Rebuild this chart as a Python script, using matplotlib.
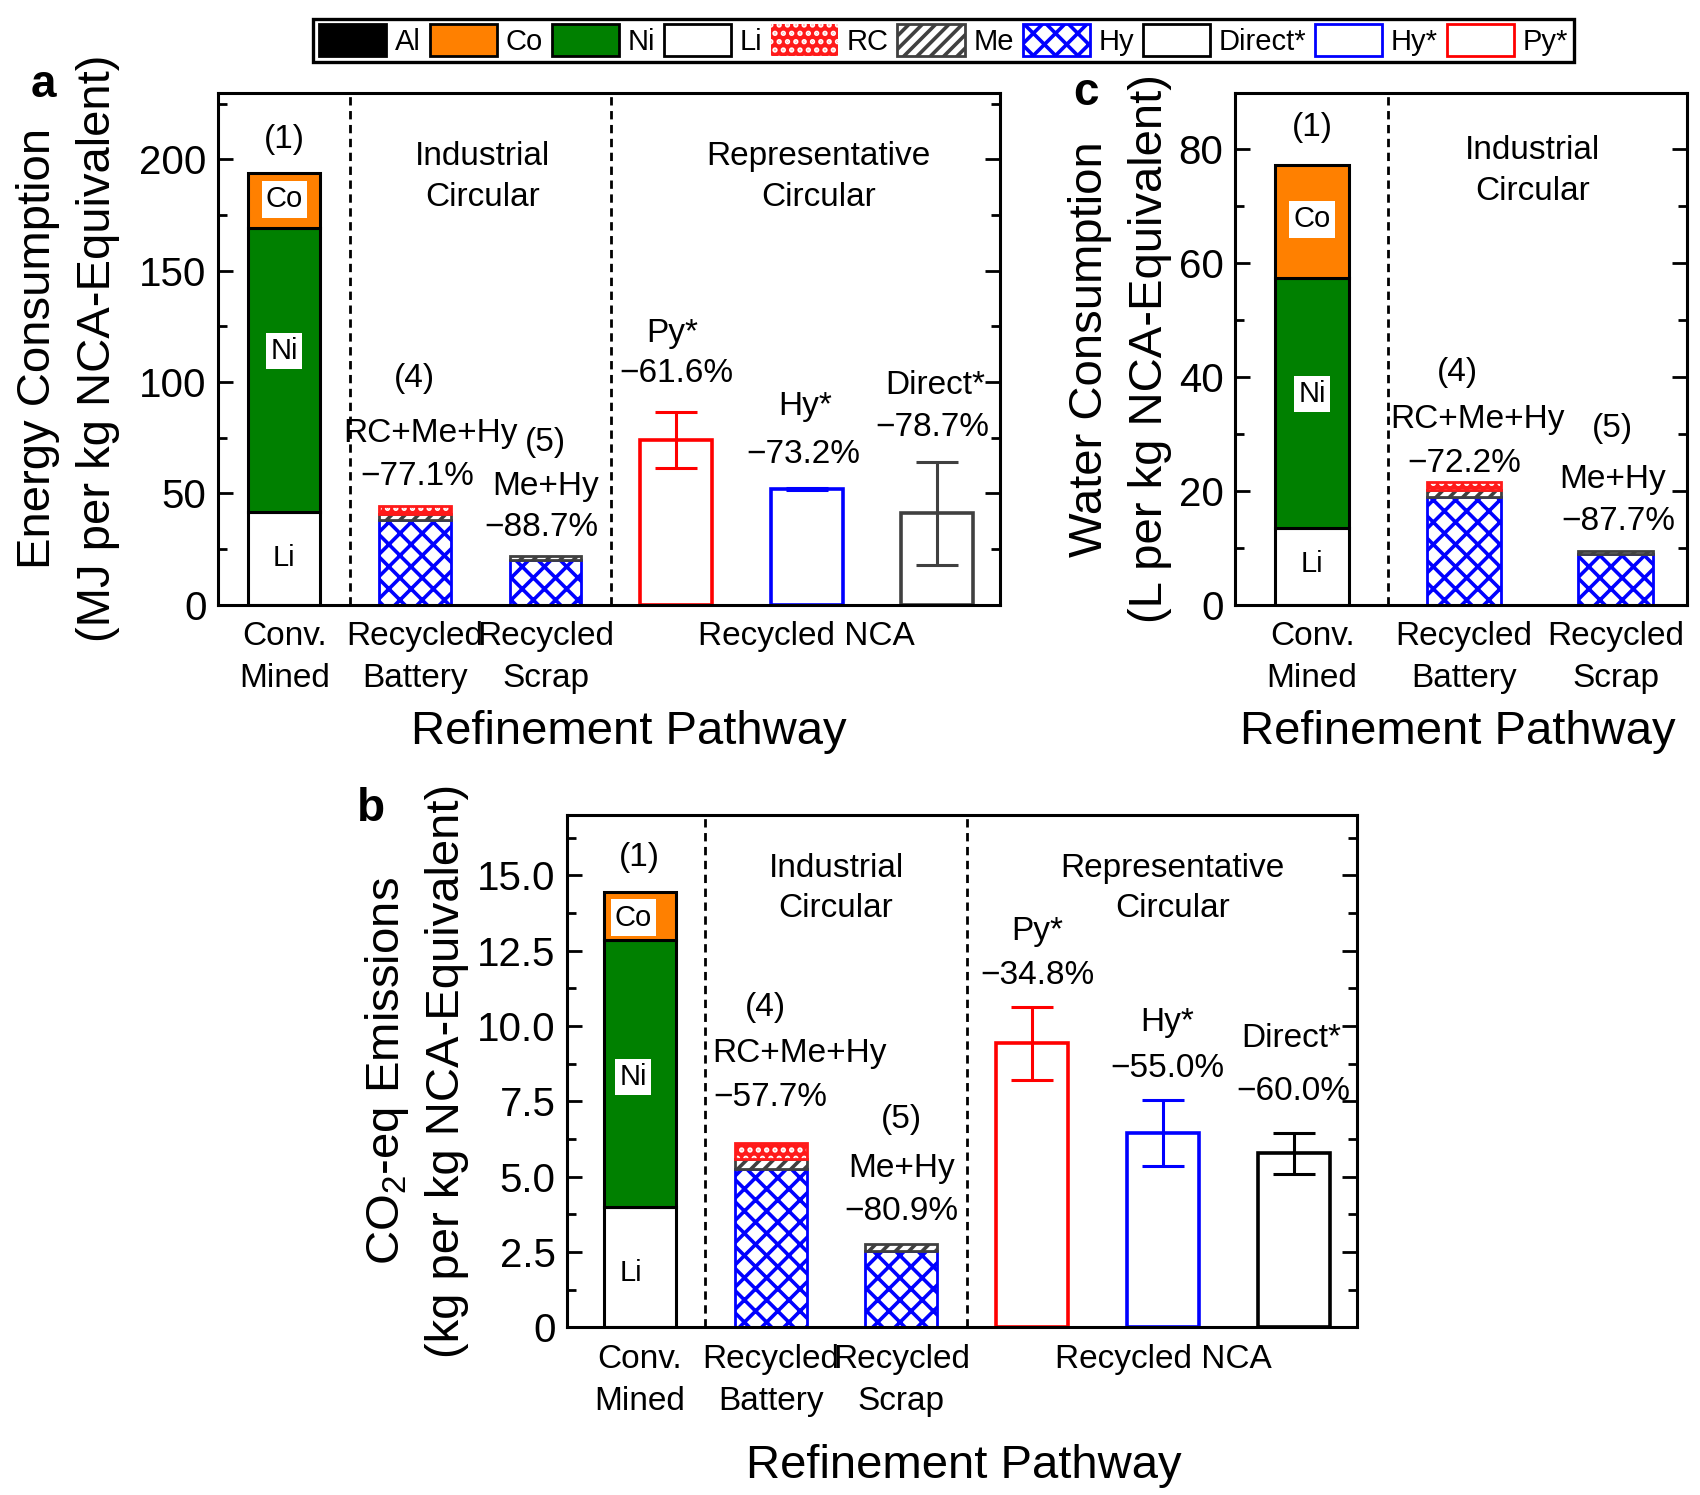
import matplotlib.pyplot as plt
from matplotlib.patches import Patch
from matplotlib.ticker import MultipleLocator, FuncFormatter

plt.rcParams['font.family'] = ['Liberation Sans', 'DejaVu Sans']
plt.rcParams['mathtext.fontset'] = 'custom'
plt.rcParams['mathtext.rm'] = 'Liberation Sans'
plt.rcParams['hatch.linewidth'] = 1.3

coColor = '#ff8000'
niColor = '#008000'
rcColor = '#ff1a1a'
meColor = '#404040'
hyColor = '#0000ff'
pyColor = '#ff0000'

catLabels = ['Conv.\nMined', 'Recycled\nBattery', 'Recycled\nScrap', 'Recycled NCA']
catPos = [0, 1, 2, 4]

# panel a: energy, MJ per kg NCA-equivalent
energyMined = [41.5, 127.5, 25.0]          # Li, Ni, Co
energyHy = [37.9, 20.2]                     # recycled battery, recycled scrap
energyMe = [2.8, 1.8]
energyRC = [3.6, 0.0]
energyStar = [74.0, 51.8, 41.0]             # Py*, Hy*, Direct*
energyStarErr = [12.7, 0.5, 23.3]

# panel b: CO2-eq, kg per kg NCA-equivalent
co2Mined = [4.0, 8.87, 1.59]
co2Hy = [5.25, 2.54]
co2Me = [0.35, 0.22]
co2RC = [0.52, 0.0]
co2Star = [9.42, 6.45, 5.78]
co2StarErr = [1.22, 1.1, 0.68]

# panel c: water, L per kg NCA-equivalent
waterMined = [13.4, 44.0, 19.9]
waterHy = [19.0, 8.9]
waterMe = [1.2, 0.6]
waterRC = [1.3, 0.0]


def minedBar(ax, vals, w):
    li, ni, co = vals
    ax.bar(0, li, w, color='white', edgecolor='black', lw=1.1)
    ax.bar(0, ni, w, bottom=li, color=niColor, edgecolor='black', lw=1.1)
    ax.bar(0, co, w, bottom=li + ni, color=coColor, edgecolor='black', lw=1.1)


def recycledBars(ax, hy, me, rc, w):
    xs = [1, 2]
    ax.bar(xs, hy, w, color='white', edgecolor=hyColor, hatch='xxx', lw=1.0)
    ax.bar(xs, me, w, bottom=hy, color='white', edgecolor=meColor, hatch='/////', lw=1.0)
    for i in range(2):
        if rc[i] > 0:
            b = hy[i] + me[i]
            ax.bar(xs[i], rc[i], w, bottom=b, color=rcColor, edgecolor='white', hatch='....', lw=0)
            ax.bar(xs[i], rc[i], w, bottom=b, fill=False, edgecolor=rcColor, lw=1.0)


def starBars(ax, vals, errs, w, colors):
    xs = [3, 4, 5]
    for x, v, e, c in zip(xs, vals, errs, colors):
        ax.bar(x, v, w, color='white', edgecolor=c, lw=1.3)
        ax.errorbar(x, v, yerr=e, color=c, lw=1.1, capsize=7.5, capthick=1.1)


def styleAxis(ax, ymax, major, minor):
    ax.set_ylim(0, ymax)
    ax.yaxis.set_major_locator(MultipleLocator(major))
    ax.yaxis.set_minor_locator(MultipleLocator(minor))
    ax.tick_params(axis='y', which='both', direction='in', left=True, right=True,
                   labelsize=14.5, width=1.0, pad=4)
    ax.tick_params(axis='y', which='major', length=5.5)
    ax.tick_params(axis='y', which='minor', length=3.2)
    ax.tick_params(axis='x', length=0, labelsize=12, pad=6)
    for s in ax.spines.values():
        s.set_linewidth(1.1)


def setTicks(ax, pos, labels):
    ax.set_xticks(pos, labels)
    for t in ax.get_xticklabels():
        t.set_linespacing(1.45)


def yLabels(ax, line1, line2, x1, x2):
    ax.set_ylabel(line1, fontsize=17)
    ax.yaxis.set_label_coords(x1, 0.5)
    ax.yaxis.label.set_va('center')
    ax.text(x2, 0.5, line2, fontsize=17, rotation=90, ha='center', va='center',
            transform=ax.transAxes)


def label(ax, x, y, s, **kw):
    ax.text(x, y, s, ha='center', va='center', fontsize=12, linespacing=1.4, **kw)


def boxLabel(ax, x, y, s):
    ax.text(x, y, s, ha='center', va='center', fontsize=10.5,
            bbox=dict(facecolor='white', edgecolor='none', pad=1.5))


fig = plt.figure(figsize=(8.5, 7.475), dpi=200)
axA = fig.add_axes([0.128, 0.5955, 0.4603, 0.3426])
axC = fig.add_axes([0.7263, 0.5955, 0.266, 0.3426])
axB = fig.add_axes([0.3333, 0.1122, 0.4647, 0.3426])

# ---- panel a ----
ax = axA
minedBar(ax, energyMined, 0.55)
recycledBars(ax, energyHy, energyMe, energyRC, 0.55)
starBars(ax, energyStar, energyStarErr, 0.55, [pyColor, hyColor, '#404040'])
styleAxis(ax, 230, 50, 25)
ax.set_xlim(-0.51, 5.48)
setTicks(ax, catPos, catLabels)
for xv in [0.5, 2.5]:
    ax.axvline(xv, color='black', ls=(0, (3, 2)), lw=1.0)
label(ax, 0, 209, '(1)')
boxLabel(ax, 0, 182, 'Co')
boxLabel(ax, 0, 114, 'Ni')
boxLabel(ax, 0, 21, 'Li')
label(ax, 1.52, 192, 'Industrial\nCircular')
label(ax, 4.09, 192, 'Representative\nCircular')
label(ax, 1.0, 101.7, '(4)')
label(ax, 1.12, 77, 'RC+Me+Hy')
label(ax, 1.02, 57.7, '\u221277.1%')
label(ax, 2.0, 73, '(5)')
label(ax, 2.0, 53.3, 'Me+Hy')
label(ax, 1.97, 34.7, '\u221288.7%')
label(ax, 2.97, 122, 'Py*')
label(ax, 3.0, 103.7, '\u221261.6%')
label(ax, 3.99, 89, 'Hy*')
label(ax, 3.97, 67.5, '\u221273.2%')
label(ax, 4.98, 98.3, 'Direct*')
label(ax, 4.96, 79.5, '\u221278.7%')
yLabels(ax, 'Energy Consumption', '(MJ per kg NCA-Equivalent)', -0.23, -0.153)
ax.set_xlabel('Refinement Pathway', fontsize=17)
ax.xaxis.set_label_coords(0.526, -0.249)
ax.xaxis.label.set_va('center')

# ---- panel c ----
ax = axC
minedBar(ax, waterMined, 0.49)
recycledBars(ax, waterHy, waterMe, waterRC, 0.49)
styleAxis(ax, 90, 20, 10)
ax.set_xlim(-0.51, 2.47)
setTicks(ax, catPos[:3], catLabels[:3])
ax.axvline(0.5, color='black', ls=(0, (3, 2)), lw=1.0)
label(ax, 0, 83.8, '(1)')
boxLabel(ax, 0, 67.7, 'Co')
boxLabel(ax, 0, 37, 'Ni')
boxLabel(ax, 0, 7.1, 'Li')
label(ax, 1.455, 76.2, 'Industrial\nCircular')
label(ax, 0.96, 40.8, '(4)')
label(ax, 1.09, 32.5, 'RC+Me+Hy')
label(ax, 1.0, 24.9, '\u221272.2%')
label(ax, 1.98, 31, '(5)')
label(ax, 1.98, 22, 'Me+Hy')
label(ax, 2.02, 14.7, '\u221287.7%')
yLabels(ax, 'Water Consumption', '(L per kg NCA-Equivalent)', -0.32, -0.188)
ax.set_xlabel('Refinement Pathway', fontsize=17)
ax.xaxis.set_label_coords(0.494, -0.249)
ax.xaxis.label.set_va('center')

# ---- panel b ----
ax = axB
minedBar(ax, co2Mined, 0.55)
recycledBars(ax, co2Hy, co2Me, co2RC, 0.55)
starBars(ax, co2Star, co2StarErr, 0.55, [pyColor, hyColor, 'black'])
styleAxis(ax, 17, 2.5, 1.25)
ax.yaxis.set_major_formatter(FuncFormatter(lambda v, p: '0' if v == 0 else '%.1f' % v))
ax.set_xlim(-0.56, 5.48)
setTicks(ax, catPos, catLabels)
for xv in [0.5, 2.5]:
    ax.axvline(xv, color='black', ls=(0, (3, 2)), lw=1.0)
label(ax, 0, 15.58, '(1)')
boxLabel(ax, -0.05, 13.6, 'Co')
boxLabel(ax, -0.05, 8.3, 'Ni')
boxLabel(ax, -0.07, 1.8, 'Li')
label(ax, 1.5, 14.56, 'Industrial\nCircular')
label(ax, 4.07, 14.56, 'Representative\nCircular')
label(ax, 0.96, 10.6, '(4)')
label(ax, 1.22, 9.1, 'RC+Me+Hy')
label(ax, 1.0, 7.63, '\u221257.7%')
label(ax, 2.0, 6.9, '(5)')
label(ax, 2.0, 5.28, 'Me+Hy')
label(ax, 2.0, 3.83, '\u221280.9%')
label(ax, 3.04, 13.15, 'Py*')
label(ax, 3.04, 11.67, '\u221234.8%')
label(ax, 4.03, 10.1, 'Hy*')
label(ax, 4.03, 8.6, '\u221255.0%')
label(ax, 4.98, 9.6, 'Direct*')
label(ax, 5.0, 7.84, '\u221260.0%')
yLabels(ax, 'CO$_{\\mathrm{2}}$-eq Emissions', '(kg per kg NCA-Equivalent)', -0.2276, -0.152)
ax.set_xlabel('Refinement Pathway', fontsize=17)
ax.xaxis.set_label_coords(0.503, -0.27)
ax.xaxis.label.set_va('center')

# panel letters
fig.text(0.0256, 0.943, 'a', fontsize=16.5, fontweight='bold', ha='center', va='center')
fig.text(0.639, 0.938, 'c', fontsize=16.5, fontweight='bold', ha='center', va='center')
fig.text(0.218, 0.459, 'b', fontsize=16.5, fontweight='bold', ha='center', va='center')

# shared legend
handles = [
    Patch(facecolor='black', edgecolor='black', label='Al'),
    Patch(facecolor=coColor, edgecolor='black', label='Co'),
    Patch(facecolor=niColor, edgecolor='black', label='Ni'),
    Patch(facecolor='white', edgecolor='black', label='Li'),
    Patch(facecolor=rcColor, edgecolor='white', hatch='....', lw=0, label='RC'),
    Patch(facecolor='white', edgecolor=meColor, hatch='/////', label='Me'),
    Patch(facecolor='white', edgecolor=hyColor, hatch='xxx', label='Hy'),
    Patch(facecolor='white', edgecolor='black', label='Direct*'),
    Patch(facecolor='white', edgecolor=hyColor, label='Hy*'),
    Patch(facecolor='white', edgecolor=pyColor, label='Py*'),
]
leg = fig.legend(handles=handles, loc='center', bbox_to_anchor=(0.555, 0.973), ncol=10,
                 fontsize=10.5, fancybox=False, edgecolor='black', framealpha=1,
                 handlelength=2.3, handleheight=1.3, handletextpad=0.3,
                 columnspacing=0.3, borderpad=0.2, borderaxespad=0)
leg.get_frame().set_linewidth(1.2)

fig.savefig('out.png', dpi=200)
